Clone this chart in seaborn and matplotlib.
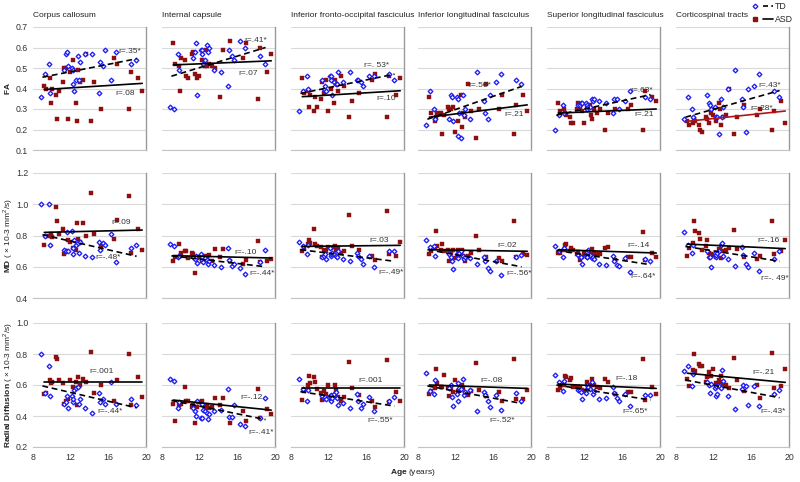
import matplotlib
matplotlib.use("Agg")
import matplotlib.pyplot as plt
import seaborn as sns
from matplotlib.lines import Line2D
from matplotlib.legend_handler import HandlerTuple

# ---------------- data ----------------
TRACTS = ["Corpus callosum", "Internal capsule", "Inferior fronto-occipital fasciculus",
          "Inferior longitudinal fasciculus", "Superior longitudinal fasciculus", "Corticospinal tracts"]
KEYS = ["CC", "IC", "IFOF", "ILF", "SLF", "CST"]
MEASURES = ["FA", "MD", "RD"]
X_TICKS = [8, 12, 16, 20]
Y_TICKS_FA = [0.1, 0.2, 0.3, 0.4, 0.5, 0.6, 0.7]
Y_TICKS_MD = [0.4, 0.6, 0.8, 1.0, 1.2]
Y_TICKS_RD = [0.2, 0.4, 0.6, 0.8, 1.0]

TD_AGE = [8.9, 9.3, 9.7, 9.8, 11.3, 11.5, 11.6, 11.7, 12.1, 12.2, 12.3, 12.4, 12.6, 12.8,
          12.9, 13.0, 13.5, 14.3, 15.0, 15.1, 15.4, 15.6, 16.3, 16.8, 18.4, 18.9]
ASD_AGE = [9.2, 9.4, 9.8, 9.9, 10.0, 10.4, 10.6, 10.8, 11.2, 11.3, 11.5, 11.7, 11.9, 12.3,
           12.6, 12.7, 12.8, 13.0, 13.3, 13.6, 14.2, 14.5, 15.2, 16.6, 16.9, 18.2, 18.4, 19.2, 19.6]

FA_TD_CC = [0.36,0.47,0.52,0.38,0.49,0.57,0.58,0.51,0.50,0.49,0.42,0.39,0.44,0.56,0.44,0.53,0.57,0.57,0.38,0.53,0.51,0.59,0.44,0.58,0.52,0.54]
FA_ASD_CC = [0.41,0.40,0.45,0.33,0.40,0.37,0.25,0.39,0.43,0.50,0.50,0.25,0.48,0.54,0.33,0.24,0.49,0.43,0.44,0.57,0.24,0.43,0.30,0.55,0.52,0.30,0.48,0.45,0.39]
FA_TD_IC = [0.31,0.30,0.57,0.49,0.55,0.58,0.62,0.37,0.59,0.59,0.57,0.52,0.54,0.61,0.58,0.60,0.49,0.48,0.41,0.59,0.56,0.54,0.63,0.60,0.56,0.52]
FA_ASD_IC = [0.62,0.52,0.51,0.39,0.55,0.54,0.46,0.45,0.57,0.58,0.47,0.45,0.46,0.54,0.51,0.59,0.51,0.52,0.51,0.50,0.36,0.59,0.63,0.55,0.62,0.35,0.60,0.48,0.57]
FA_TD_IFOF = [0.29,0.39,0.46,0.40,0.44,0.40,0.41,0.39,0.46,0.46,0.44,0.37,0.43,0.42,0.42,0.48,0.43,0.48,0.44,0.44,0.43,0.41,0.46,0.46,0.47,0.44]
FA_ASD_IFOF = [0.45,0.38,0.39,0.31,0.37,0.29,0.36,0.31,0.35,0.43,0.38,0.44,0.29,0.40,0.33,0.44,0.42,0.39,0.46,0.41,0.26,0.34,0.38,0.44,0.47,0.26,0.46,0.37,0.45]
FA_TD_ILF = [0.22,0.39,0.30,0.25,0.25,0.37,0.36,0.24,0.36,0.35,0.17,0.28,0.16,0.37,0.27,0.30,0.25,0.48,0.34,0.28,0.25,0.37,0.43,0.47,0.44,0.42]
FA_ASD_ILF = [0.36,0.28,0.24,0.26,0.28,0.28,0.18,0.27,0.31,0.30,0.30,0.31,0.19,0.24,0.37,0.21,0.28,0.26,0.42,0.29,0.16,0.30,0.42,0.30,0.37,0.18,0.32,0.37,0.29]
FA_TD_SLF = [0.20,0.27,0.32,0.28,0.32,0.32,0.33,0.33,0.33,0.32,0.30,0.31,0.31,0.35,0.34,0.35,0.34,0.33,0.28,0.35,0.35,0.30,0.34,0.39,0.36,0.35]
FA_ASD_SLF = [0.33,0.29,0.30,0.28,0.27,0.26,0.23,0.23,0.30,0.33,0.31,0.29,0.23,0.31,0.32,0.27,0.25,0.30,0.28,0.30,0.20,0.28,0.30,0.30,0.32,0.20,0.39,0.36,0.34]
FA_TD_CST = [0.25,0.36,0.30,0.26,0.37,0.33,0.32,0.30,0.31,0.26,0.26,0.26,0.18,0.35,0.26,0.31,0.40,0.49,0.35,0.31,0.19,0.40,0.41,0.47,0.39,0.36]
FA_ASD_CST = [0.24,0.22,0.23,0.25,0.24,0.22,0.20,0.19,0.26,0.25,0.23,0.28,0.27,0.24,0.33,0.30,0.22,0.26,0.27,0.40,0.18,0.26,0.32,0.27,0.30,0.20,0.29,0.34,0.23]

MD_TD_CC = [1.00,0.80,1.00,0.74,0.71,0.70,0.82,0.70,0.83,0.72,0.68,0.77,0.74,0.75,0.69,0.76,0.67,0.66,0.76,0.71,0.75,0.74,0.81,0.63,0.72,0.74]
MD_ASD_CC = [0.74,0.80,0.80,0.81,0.79,0.98,0.89,0.81,0.84,0.68,0.70,0.77,0.76,0.72,0.71,0.88,0.78,0.76,0.88,0.80,1.07,0.81,0.73,0.78,0.90,1.05,0.69,0.84,0.71]
MD_TD_IC = [0.745,0.735,0.66,0.67,0.66,0.65,0.67,0.625,0.68,0.645,0.665,0.63,0.655,0.645,0.615,0.64,0.61,0.60,0.72,0.645,0.605,0.615,0.595,0.555,0.63,0.705]
MD_ASD_IC = [0.635,0.66,0.745,0.67,0.69,0.70,0.70,0.655,0.685,0.68,0.56,0.655,0.665,0.64,0.65,0.67,0.66,0.675,0.64,0.715,0.665,0.715,0.64,0.615,0.645,0.765,0.63,0.64,0.65]
MD_TD_IFOF = [0.76,0.73,0.68,0.74,0.66,0.67,0.68,0.65,0.72,0.67,0.68,0.69,0.68,0.67,0.66,0.70,0.65,0.64,0.69,0.67,0.65,0.62,0.67,0.60,0.70,0.70]
MD_ASD_IFOF = [0.70,0.72,0.745,0.77,0.75,0.84,0.745,0.73,0.725,0.66,0.71,0.70,0.725,0.72,0.725,0.73,0.71,0.72,0.69,0.70,0.93,0.73,0.705,0.67,0.645,0.955,0.68,0.67,0.76]
MD_TD_ILF = [0.77,0.725,0.73,0.67,0.68,0.66,0.64,0.585,0.68,0.655,0.68,0.69,0.70,0.67,0.65,0.66,0.655,0.62,0.665,0.64,0.59,0.575,0.635,0.55,0.665,0.675]
MD_ASD_ILF = [0.68,0.70,0.72,0.83,0.73,0.71,0.745,0.70,0.71,0.64,0.69,0.71,0.655,0.71,0.68,0.71,0.67,0.635,0.67,0.69,0.80,0.71,0.665,0.655,0.635,0.89,0.66,0.68,0.675]
MD_TD_SLF = [0.735,0.70,0.66,0.72,0.677,0.664,0.66,0.62,0.677,0.66,0.66,0.707,0.677,0.655,0.664,0.65,0.616,0.612,0.67,0.64,0.612,0.605,0.655,0.569,0.65,0.634]
MD_ASD_SLF = [0.685,0.69,0.707,0.74,0.745,0.70,0.718,0.71,0.68,0.696,0.642,0.664,0.685,0.66,0.67,0.68,0.713,0.69,0.68,0.68,0.72,0.724,0.642,0.66,0.66,0.82,0.642,0.685,0.664]
MD_TD_CST = [0.82,0.74,0.685,0.74,0.70,0.66,0.664,0.60,0.69,0.664,0.677,0.685,0.70,0.74,0.75,0.67,0.65,0.605,0.724,0.677,0.62,0.597,0.685,0.573,0.65,0.70]
MD_ASD_CST = [0.67,0.72,0.75,0.89,0.826,0.818,0.78,0.707,0.73,0.77,0.69,0.68,0.677,0.66,0.713,0.707,0.655,0.70,0.707,0.72,0.837,0.713,0.66,0.65,0.67,0.893,0.68,0.70,0.77]

RD_TD_CC = [0.80,0.55,0.72,0.53,0.48,0.49,0.53,0.45,0.53,0.49,0.51,0.57,0.58,0.59,0.48,0.51,0.45,0.42,0.55,0.49,0.51,0.48,0.62,0.48,0.51,0.47]
RD_ASD_CC = [0.54,0.55,0.63,0.61,0.62,0.78,0.77,0.63,0.61,0.48,0.50,0.51,0.63,0.59,0.62,0.47,0.65,0.60,0.64,0.62,0.81,0.55,0.60,0.50,0.63,0.80,0.47,0.65,0.52]
RD_TD_IC = [0.637,0.626,0.453,0.49,0.45,0.43,0.40,0.50,0.39,0.475,0.39,0.44,0.43,0.42,0.38,0.41,0.43,0.44,0.574,0.395,0.395,0.47,0.35,0.336,0.388,0.513]
RD_ASD_IC = [0.48,0.368,0.47,0.48,0.475,0.59,0.50,0.50,0.46,0.47,0.358,0.46,0.49,0.50,0.453,0.46,0.47,0.45,0.46,0.513,0.47,0.513,0.355,0.43,0.366,0.574,0.388,0.443,0.41]
RD_TD_IFOF = [0.64,0.572,0.497,0.57,0.53,0.516,0.523,0.512,0.527,0.50,0.533,0.516,0.54,0.555,0.518,0.469,0.484,0.452,0.544,0.50,0.452,0.48,0.523,0.432,0.50,0.523]
RD_ASD_IFOF = [0.505,0.56,0.60,0.655,0.61,0.65,0.62,0.575,0.55,0.505,0.56,0.54,0.60,0.512,0.53,0.60,0.566,0.52,0.50,0.52,0.748,0.583,0.538,0.497,0.458,0.763,0.49,0.555,0.50]
RD_TD_ILF = [0.676,0.56,0.545,0.635,0.58,0.60,0.525,0.465,0.545,0.50,0.612,0.58,0.575,0.64,0.533,0.555,0.566,0.43,0.555,0.533,0.50,0.458,0.538,0.44,0.548,0.495]
RD_ASD_ILF = [0.545,0.56,0.58,0.705,0.612,0.585,0.59,0.666,0.58,0.527,0.575,0.555,0.63,0.56,0.59,0.60,0.58,0.55,0.533,0.56,0.742,0.565,0.527,0.555,0.50,0.77,0.51,0.51,0.565]
RD_TD_SLF = [0.665,0.617,0.56,0.624,0.565,0.57,0.555,0.512,0.548,0.575,0.597,0.585,0.575,0.62,0.54,0.56,0.512,0.518,0.585,0.548,0.518,0.50,0.54,0.462,0.533,0.533]
RD_ASD_SLF = [0.565,0.58,0.60,0.66,0.65,0.63,0.645,0.59,0.59,0.59,0.58,0.57,0.56,0.618,0.585,0.60,0.64,0.597,0.59,0.58,0.64,0.62,0.543,0.557,0.553,0.77,0.506,0.59,0.543]
RD_TD_CST = [0.69,0.725,0.595,0.67,0.62,0.60,0.55,0.607,0.582,0.528,0.592,0.54,0.592,0.578,0.70,0.624,0.528,0.444,0.574,0.60,0.592,0.47,0.592,0.464,0.545,0.567]
RD_ASD_CST = [0.64,0.592,0.70,0.80,0.69,0.735,0.72,0.72,0.62,0.65,0.685,0.66,0.705,0.61,0.63,0.62,0.655,0.607,0.60,0.578,0.775,0.635,0.563,0.60,0.518,0.807,0.578,0.592,0.705]

# regression-line end values, order: FA x6, MD x6, RD x6
TD_FIT_START = [0.455, 0.46, 0.376, 0.25, 0.27, 0.26, 0.805, 0.67, 0.709, 0.71, 0.705, 0.73, 0.594, 0.50, 0.557, 0.594, 0.60, 0.632]
TD_FIT_END = [0.545, 0.60, 0.47, 0.41, 0.37, 0.39, 0.667, 0.60, 0.635, 0.60, 0.613, 0.635, 0.453, 0.377, 0.464, 0.481, 0.503, 0.518]
ASD_FIT_START = [0.395, 0.515, 0.36, 0.26, 0.28, 0.24, 0.82, 0.671, 0.73, 0.709, 0.709, 0.745, 0.62, 0.503, 0.578, 0.60, 0.606, 0.676]
ASD_FIT_END = [0.425, 0.535, 0.389, 0.32, 0.30, 0.29, 0.835, 0.656, 0.737, 0.699, 0.688, 0.716, 0.62, 0.438, 0.578, 0.578, 0.578, 0.617]
TD_FIT_AGE = [9.0, 19.0]
ASD_FIT_AGE = [9.2, 19.6]

TD_R = ["r=.35*", "r=.41*", "r=. 53*", "r=.50*", "r=.63*", "r=.43*",
        "r=-.48*", "r=-.44*", "r=-.49*", "r=-.56*", "r=-.64*", "r=-. 49*",
        "r=-.44*", "r=-.41*", "r=-.55*", "r=-.52*", "r=-.65*", "r=-.43*"]
ASD_R = ["r=.08", "r=.07", "r=.10", "r=.21", "r=.21", "r=.28*",
         "r=.09", "r=-.10", "r=.03", "r=.02", "r=-.14", "r=-.16",
         "r=.001", "r=-.12", "r=.001", "r=-.08", "r=-.18", "r=-.21"]

# label anchor positions (age, value)
TD_R_POS = [(17.1, 0.58), (16.8, 0.635), (15.7, 0.513), (13.4, 0.415), (16.9, 0.39), (16.8, 0.415),
            (14.6, 0.662), (17.3, 0.556), (17.3, 0.56), (17.4, 0.554), (16.9, 0.536), (17.0, 0.523),
            (14.8, 0.427), (17.2, 0.293), (16.1, 0.368), (15.6, 0.372), (16.0, 0.43), (17.0, 0.43)]
ASD_R_POS = [(16.8, 0.375), (16.1, 0.475), (17.1, 0.35), (17.2, 0.275), (17.3, 0.275), (15.9, 0.30),
             (16.3, 0.884), (15.7, 0.692), (16.3, 0.767), (16.4, 0.735), (16.5, 0.735), (16.6, 0.767),
             (14.0, 0.686), (16.3, 0.52), (15.2, 0.63), (14.6, 0.63), (15.3, 0.64), (16.15, 0.678)]

DATA = {}
for m in MEASURES:
    for k in KEYS:
        DATA[(m, k)] = (globals()[f"{m}_TD_{k}"], globals()[f"{m}_ASD_{k}"])

# ---------------- style ----------------
sns.set_style("white")
plt.rcParams["font.family"] = ["Liberation Sans", "DejaVu Sans"]
plt.rcParams["mathtext.fontset"] = "custom"
plt.rcParams["mathtext.rm"] = "Liberation Sans"
plt.rcParams["mathtext.bf"] = "Liberation Sans:bold"

TD_COLOR = "#1c1cf5"
ASD_COLOR = "#8e0f0f"
GRID = "#d9d9d9"
TEXT = "#333333"
FS = 6.0

W, H = 800, 482
fig = plt.figure(figsize=(8.0, 4.82), dpi=100)

LEFTS = [33, 162, 291, 418, 547, 676]
PW = 113
ROWS = [(27, 150), (173, 298), (323, 447)]
YLIMS = [(0.1, 0.7), (0.4, 1.2), (0.2, 1.0)]
YTICKS = [Y_TICKS_FA, Y_TICKS_MD, Y_TICKS_RD]
YLABELS = [r"$\bf{FA}$",
           r"$\bf{MD}$ ( × 10-3 mm$^{2}$/s)",
           r"$\bf{Radial\ Diffusion}$ ( × 10-3 mm$^{2}$/s)"]

for r, m in enumerate(MEASURES):
    top, bot = ROWS[r]
    for c, k in enumerate(KEYS):
        idx = r * 6 + c
        ax = fig.add_axes([LEFTS[c] / W, 1 - bot / H, PW / W, (bot - top) / H])
        td, asd = DATA[(m, k)]
        sns.scatterplot(x=ASD_AGE, y=asd, ax=ax, marker="s", s=6, color=ASD_COLOR,
                        edgecolor=ASD_COLOR, linewidth=0.3, zorder=3)
        sns.scatterplot(x=TD_AGE, y=td, ax=ax, marker="D", s=5.5, facecolor="white",
                        edgecolor=TD_COLOR, linewidth=0.95, zorder=4)
        asd_line_color = "#b01515" if (m == "FA" and k == "CST") else "black"
        sns.lineplot(x=ASD_FIT_AGE, y=[ASD_FIT_START[idx], ASD_FIT_END[idx]], ax=ax,
                     color=asd_line_color, linewidth=1.2, zorder=5)
        sns.lineplot(x=TD_FIT_AGE, y=[TD_FIT_START[idx], TD_FIT_END[idx]], ax=ax,
                     color="black", linewidth=1.2, zorder=5)
        ax.lines[-1].set_dashes((3.5, 2.2))
        ax.text(*TD_R_POS[idx], TD_R[idx], fontsize=FS, color=TEXT, ha="left", va="center", zorder=6)
        ax.text(*ASD_R_POS[idx], ASD_R[idx], fontsize=FS, color=TEXT, ha="left", va="center", zorder=6)

        ax.set_xlim(8, 20)
        ax.set_ylim(*YLIMS[r])
        ax.set_xticks(X_TICKS)
        ax.set_yticks(YTICKS[r])
        ax.grid(axis="y", color=GRID, linewidth=0.8)
        ax.grid(axis="x", visible=False)
        ax.set_axisbelow(True)
        for s in ["left", "top"]:
            ax.spines[s].set_visible(False)
        ax.spines["right"].set_visible(True)
        ax.spines["right"].set_color("#9a9a9a")
        ax.spines["right"].set_linewidth(1.0)
        ax.spines["bottom"].set_visible(True)
        ax.spines["bottom"].set_color("#c4c4c4")
        ax.spines["bottom"].set_linewidth(0.8)
        ax.tick_params(axis="x", length=2.5, width=0.8, color="#a0a0a0", pad=1.5,
                       labelsize=FS + 0.3, labelcolor=TEXT, labelbottom=(r == 2))
        ax.tick_params(axis="y", length=0, pad=3.5, labelsize=FS + 0.3, labelcolor=TEXT,
                       labelleft=(c == 0))
        if c == 0:
            ax.set_yticklabels([f"{v:.1f}" for v in YTICKS[r]])
        ax.set_xlabel("")
        ax.set_ylabel("")
        if r == 0:
            ax.set_title(TRACTS[c], loc="left", fontsize=FS, color="#222222", pad=7)
        if c == 0:
            fig.text(8 / W, 1 - ((top + bot) / 2) / H, YLABELS[r], rotation=90,
                     ha="center", va="center", fontsize=FS, color="#222222")

fig.text(413 / W, 1 - 472 / H, r"$\bf{Age}$ (years)", ha="center", va="center",
         fontsize=FS, color="#222222")

h_td = (Line2D([], [], marker="D", ls="none", markersize=2.4, markerfacecolor="white",
               markeredgecolor=TD_COLOR, markeredgewidth=0.95),
        Line2D([], [], color="black", lw=1.2, dashes=(3.0, 2.0)))
h_asd = (Line2D([], [], marker="s", ls="none", markersize=2.6, color=ASD_COLOR),
         Line2D([], [], color="black", lw=1.2))
fig.legend([h_td, h_asd], ["TD", "ASD"], handler_map={tuple: HandlerTuple(ndivide=None, pad=0.3)},
           loc="upper left", bbox_to_anchor=(750 / W, 1 - 2 / H), frameon=False, fontsize=6.3,
           handlelength=2.6, labelspacing=0.5, handletextpad=0.25, borderpad=0.0,
           borderaxespad=0.0)

fig.savefig("out.png", dpi=100)
